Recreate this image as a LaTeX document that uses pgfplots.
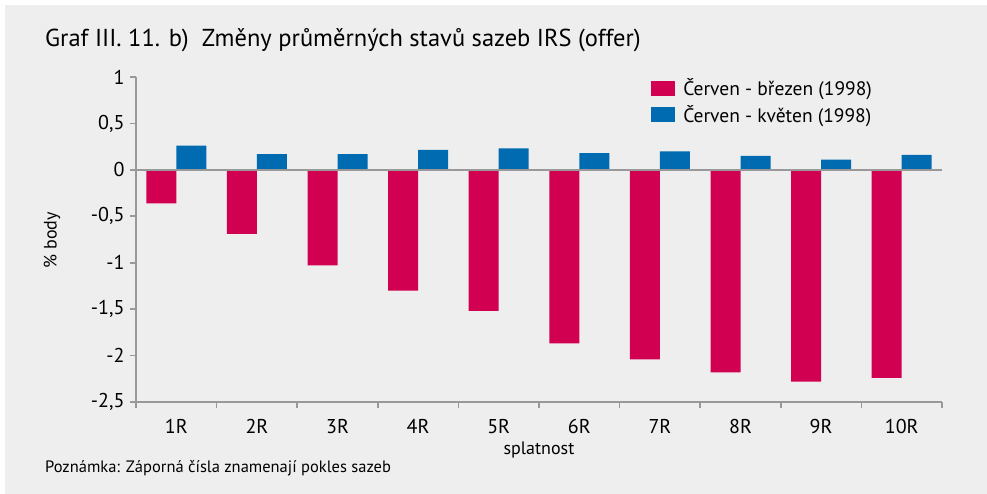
\documentclass[border=0pt]{standalone}
\usepackage{pgfplots}
\pgfplotsset{compat=1.18}
\usepackage{fontspec}
\setmainfont{PT Sans}
\definecolor{bgc}{HTML}{EEEEEE}
\definecolor{redbar}{HTML}{D20050}
\definecolor{bluebar}{HTML}{006BB0}
\definecolor{axgray}{HTML}{999999}
\begin{document}
\begin{tikzpicture}[x=1pt,y=1pt]
\useasboundingbox (0,0) rectangle (987,494);
\fill[white] (0,0) rectangle (987,494);
\fill[bgc] (5,0) rectangle (987,489);
\node[anchor=base west, font=\fontsize{24.5}{28}\selectfont, inner sep=0pt] at (45,447) {Graf III. 11. b)\ \ Změny průměrných stavů sazeb IRS (offer)};
\node[anchor=base west, font=\fontsize{16.5}{19}\selectfont, inner sep=0pt] at (45,21) {Poznámka: Záporná čísla znamenají pokles sazeb};
\begin{axis}[
  at={(136pt,92pt)}, anchor=south west,
  scale only axis, width=806pt, height=325pt,
  xmin=0.5, xmax=10.5, ymin=-2.5, ymax=1,
  axis x line*=bottom, axis y line*=left,
  axis line style={axgray, line width=1.6pt, -},
  every tick/.style={axgray, line width=1.6pt},
  tick align=outside, major tick length=6pt,
  ytick={-2.5,-2,-1.5,-1,-0.5,0,0.5,1},
  yticklabels={{-2,5},{-2},{-1,5},{-1},{-0,5},{0},{0,5},{1}},
  xtick={0.5,1.5,...,10.5}, xticklabels={},
  extra x ticks={1,2,3,4,5,6,7,8,9,10},
  extra x tick labels={1R,2R,3R,4R,5R,6R,7R,8R,9R,10R},
  extra x tick style={major tick length=0pt, xticklabel style={anchor=base, yshift=-32pt}},
  ticklabel style={font=\fontsize{20}{23}\selectfont, text=black},
  yticklabel style={xshift=-2pt},
  xlabel={splatnost}, xlabel style={font=\fontsize{18}{21}\selectfont, at={(axis description cs:0.5,-0.163)}, anchor=base},
  ylabel={\% body}, ylabel style={font=\fontsize{18}{21}\selectfont, at={(axis description cs:-0.104,0.498)}, anchor=center, rotate=0},
  ybar=0pt, bar width=30pt,
  legend style={at={(axis description cs:0.639,0.998)}, anchor=north west,
    draw=none, fill=none, inner sep=0pt, row sep=6pt,
    font=\fontsize{19.5}{22}\selectfont,
    nodes={inner sep=1pt}},
  legend cell align=left,
  legend image code/.code={\fill[#1] (0pt,-7.5pt) rectangle (24pt,7.5pt);},
  clip=false,
]
\addplot[fill=redbar, draw=none] coordinates {
(1,-0.36) (2,-0.69) (3,-1.03) (4,-1.30) (5,-1.52) (6,-1.87) (7,-2.04) (8,-2.18) (9,-2.28) (10,-2.24)};
\addlegendentry{\hspace{7pt}Červen - březen (1998)}
\addplot[fill=bluebar, draw=none] coordinates {
(1,0.26) (2,0.17) (3,0.17) (4,0.215) (5,0.23) (6,0.18) (7,0.20) (8,0.15) (9,0.11) (10,0.16)};
\addlegendentry{\hspace{7pt}Červen - květen (1998)}
\draw[axgray, line width=1.6pt] (axis cs:0.5,0) -- (axis cs:10.5,0);
\end{axis}
\end{tikzpicture}
\end{document}
